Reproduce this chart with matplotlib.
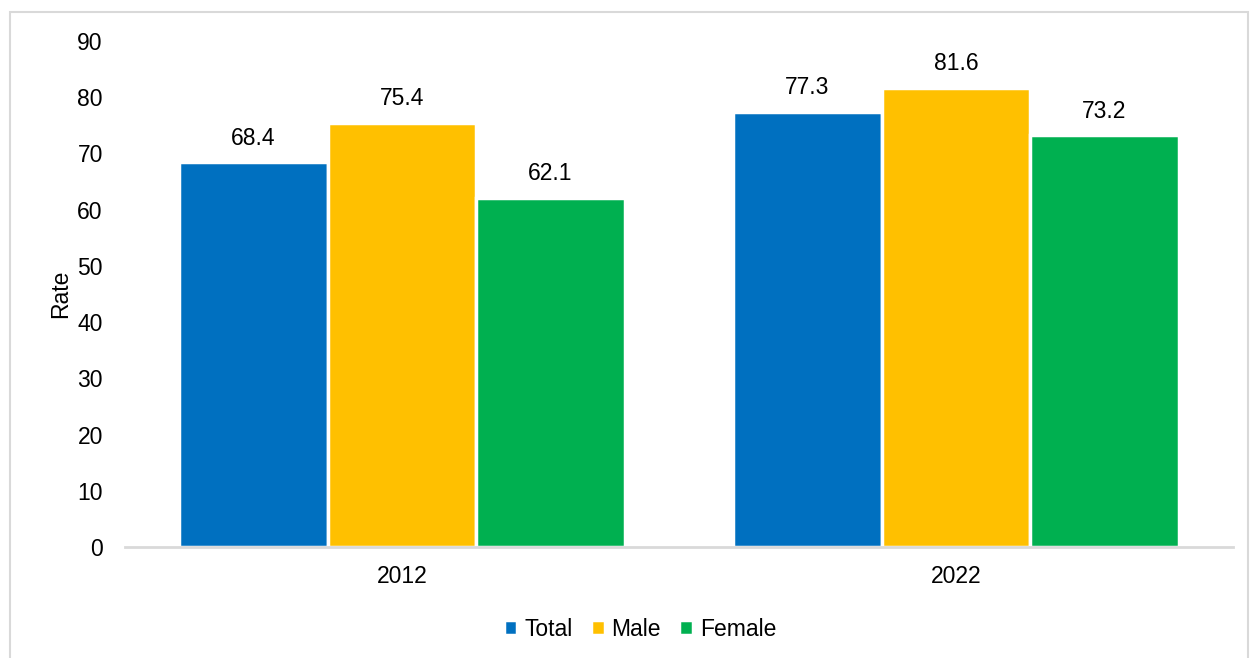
import matplotlib
matplotlib.use("Agg")
import matplotlib.pyplot as plt
from matplotlib.patches import Rectangle
from matplotlib import font_manager
import numpy as np

years = ["2012", "2022"]
series = ["Total", "Male", "Female"]
total = [68.4, 77.3]
male = [75.4, 81.6]
female = [62.1, 73.2]
colors = ["#0070C0", "#FFC000", "#00B050"]
yticks = [0, 10, 20, 30, 40, 50, 60, 70, 80, 90]

names = {f.name for f in font_manager.fontManager.ttflist}
fam = ['Liberation Sans Narrow'] if 'Liberation Sans Narrow' in names else []
plt.rcParams['font.family'] = fam + ['Liberation Sans', 'DejaVu Sans']
fs = 16.5

fig = plt.figure(figsize=(12.5, 6.58), dpi=100)
ax = fig.add_axes([0.1, 0.1687, 0.8864, 0.769])

x = np.arange(len(years))
w = 0.268
for i, (name, vals) in enumerate(zip(series, [total, male, female])):
    bars = ax.bar(x + (i - 1) * w, vals, width=w, color=colors[i], edgecolor="white",
                  linewidth=2.5, label=name)
    for b, v in zip(bars, vals):
        ax.text(b.get_x() + b.get_width() / 2, v + 2.3, f"{v:.1f}", ha="center",
                va="bottom", fontsize=fs, color="#000000")

ax.set_xlim(-0.5, 1.5)
ax.set_ylim(0, 90)
ax.set_yticks(yticks)
ax.set_xticks(x)
ax.set_xticklabels(years)
ax.tick_params(axis="both", length=0, labelsize=fs, colors="#000000")
ax.tick_params(axis="y", pad=16)
ax.tick_params(axis="x", pad=13)
for s in ["top", "right", "left"]:
    ax.spines[s].set_visible(False)
ax.spines["bottom"].set_color("#d9d9d9")
ax.spines["bottom"].set_linewidth(2)
ax.set_ylabel("Rate", fontsize=fs, labelpad=4)

leg = fig.legend(loc="center", bbox_to_anchor=(0.512, 0.044), ncol=3, frameon=False,
                 fontsize=fs, handlelength=0.6, handleheight=0.6, handletextpad=0.3,
                 columnspacing=0.8)

fig.patches.append(Rectangle((10 / 1250, -0.01), 1238 / 1250, 1 - 12 / 658 + 0.01,
                             transform=fig.transFigure, fill=False,
                             edgecolor="#d9d9d9", linewidth=1.5))

fig.savefig("out.png", dpi=100)
